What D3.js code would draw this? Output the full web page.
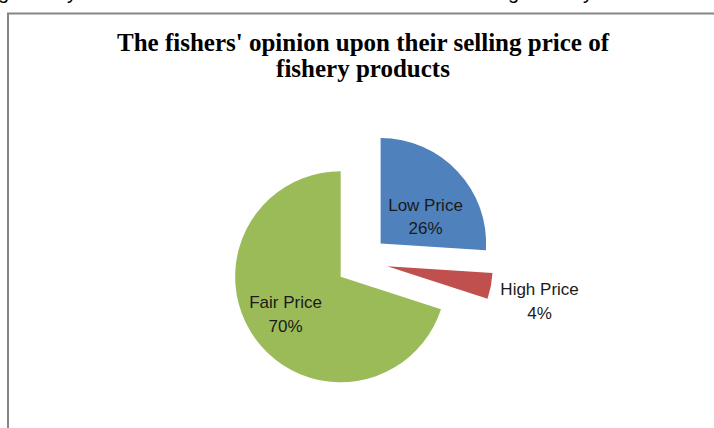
<!DOCTYPE html>
<html>
<head>
<meta charset="utf-8">
<script src="https://cdn.jsdelivr.net/npm/d3@7"></script>
<style>
  html, body { margin: 0; padding: 0; background: #ffffff; }
  svg { display: block; }
</style>
</head>
<body>
<svg id="chart" width="714" height="428"></svg>
<script>
// ---- data ----
const categories = ["Low Price", "High Price", "Fair Price"];
const values = [26, 4, 70];
const percentLabels = ["26%", "4%", "70%"];
const titleLines = ["The fishers' opinion upon their selling price of", "fishery products"];
const aboveTextFragments = ["g", "y", "g", "y"]; // descenders of the document line above the chart

// ---- layout / style ----
const W = 714, H = 428;
const colors = ["#4F81BD", "#C0504D", "#9BBB59"];
const center = { x: 361.7, y: 261.4 };
const radius = 105.5;
const explode = 26;
// label placement relative to each exploded slice centre (radius, angle nudge in degrees)
const labelPlace = [
  { r: 52.4, dAng: 12.1, anchor: "middle" },
  { r: 156.2, dAng: 2.0, anchor: "middle" },
  { r: 66.5, dAng: 2.0, anchor: "middle" }
];
const fragX = [-2, 67, 508, 583];

const svg = d3.select("#chart");

svg.append("rect").attr("x", 0).attr("y", 0).attr("width", W).attr("height", H).attr("fill", "#fff");

// text line of the document above the chart (only descenders visible)
svg.append("g").selectAll("text").data(aboveTextFragments).join("text")
  .attr("x", (d, i) => fragX[i])
  .attr("y", -0.8)
  .attr("font-family", "'Liberation Sans', Arial, sans-serif")
  .attr("font-size", 20)
  .attr("fill", "#000")
  .text(d => d);

// chart area border (extends beyond the right and bottom of the picture)
svg.append("rect")
  .attr("x", 8).attr("y", 13.5)
  .attr("width", 740).attr("height", 460)
  .attr("fill", "none")
  .attr("stroke", "#868686")
  .attr("stroke-width", 2);

// title
const title = svg.append("text")
  .attr("x", 363)
  .attr("y", 51)
  .attr("text-anchor", "middle")
  .attr("font-family", "'Liberation Serif', 'Times New Roman', serif")
  .attr("font-weight", "bold")
  .attr("font-size", 25)
  .attr("fill", "#000");
title.selectAll("tspan").data(titleLines).join("tspan")
  .attr("x", 363)
  .attr("dy", (d, i) => i === 0 ? 0 : 26)
  .text(d => d);

// pie
const pie = d3.pie().sort(null).value(d => d).startAngle(0).endAngle(2 * Math.PI);
const arcs = pie(values);
const arc = d3.arc().innerRadius(0).outerRadius(radius);

const g = svg.append("g").attr("transform", `translate(${center.x},${center.y})`);

function offsetOf(a) {
  const m = (a.startAngle + a.endAngle) / 2;
  return [explode * Math.sin(m), -explode * Math.cos(m)];
}

g.selectAll("path").data(arcs).join("path")
  .attr("d", arc)
  .attr("transform", d => { const o = offsetOf(d); return `translate(${o[0]},${o[1]})`; })
  .attr("fill", (d, i) => colors[i]);

// labels
const lab = g.selectAll("text.lbl").data(arcs).join("text")
  .attr("class", "lbl")
  .attr("text-anchor", (d, i) => labelPlace[i].anchor)
  .attr("font-family", "'Liberation Sans', Arial, sans-serif")
  .attr("font-size", 17)
  .attr("fill", "#1a1a1a")
  .attr("transform", (d, i) => {
    const o = offsetOf(d);
    const m = (d.startAngle + d.endAngle) / 2 + labelPlace[i].dAng * Math.PI / 180;
    const r = labelPlace[i].r;
    const x = o[0] + r * Math.sin(m);
    const y = o[1] - r * Math.cos(m);
    return `translate(${x},${y})`;
  });
lab.append("tspan").attr("x", 0).attr("y", -5.8).text((d, i) => categories[i]);
lab.append("tspan").attr("x", 0).attr("y", 17.8).text((d, i) => percentLabels[i]);
</script>
</body>
</html>
